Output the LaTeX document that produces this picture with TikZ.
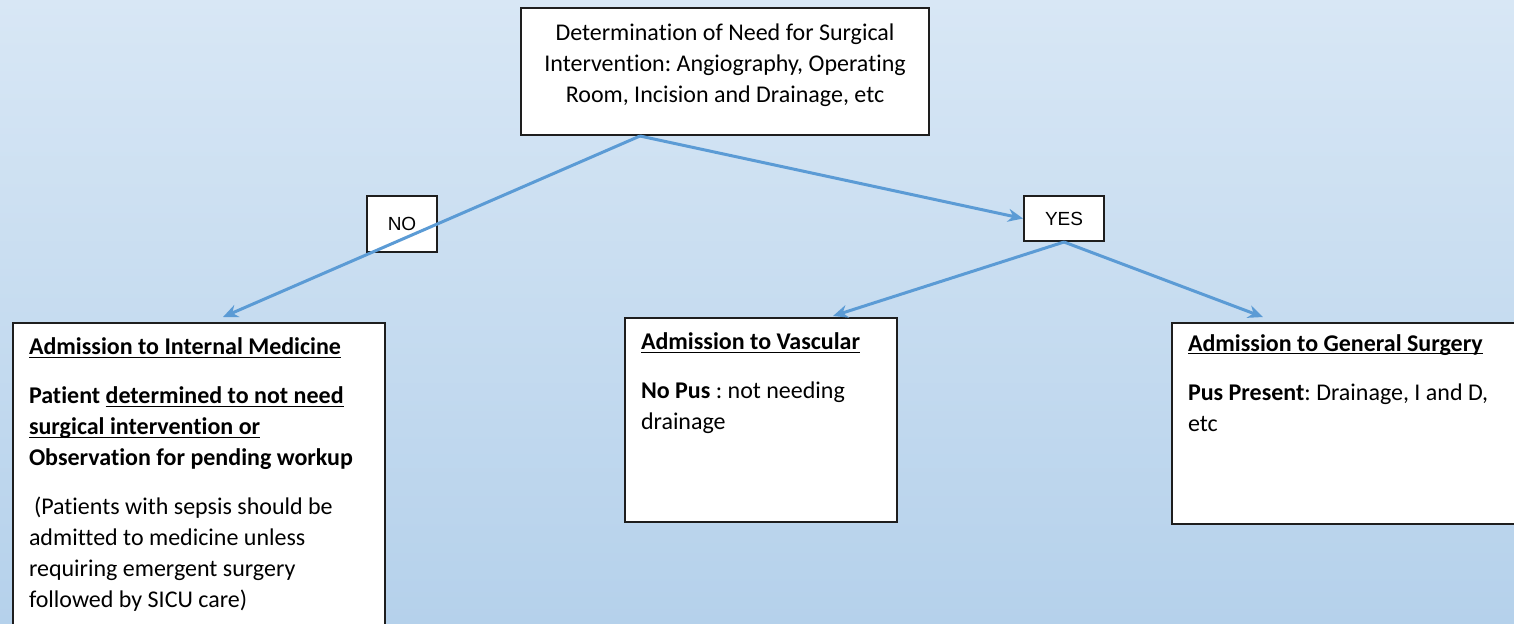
\documentclass[tikz,border=0pt]{standalone}
\usepackage{fontspec}
\setmainfont{Carlito}[Ligatures=NoCommon]
\newfontfamily\labelfont{Liberation Sans}
\usetikzlibrary{arrows.meta,calc}
\definecolor{bgtop}{RGB}{216,231,245}
\definecolor{bgbottom}{RGB}{181,209,235}
\definecolor{flowblue}{RGB}{91,155,213}
\definecolor{boxline}{RGB}{30,30,30}
\newlength\ulwd
\newcommand\undertext[1]{\settowidth\ulwd{#1}\rlap{\rule[-1.6pt]{\ulwd}{0.65pt}}#1}
\frenchspacing

\begin{document}
\begin{tikzpicture}[
    x=0.5pt, y=-0.5pt,
    font=\fontsize{12}{15.5}\selectfont,
    box/.style={rectangle, draw=boxline, fill=white, line width=1pt, anchor=north west, inner xsep=8pt, inner ysep=0pt},
    tag/.style={rectangle, draw=boxline, fill=white, line width=1pt, inner sep=0pt, font=\labelfont\fontsize{9.5}{11}\selectfont},
    flow/.style={-{Stealth[length=7.5pt,width=6.5pt]}, draw=flowblue, line width=1.5pt}
]
    \clip (0,0) rectangle (1514,623);
    \shade[top color=bgtop, bottom color=bgbottom] (0,0) rectangle (1514,623);

    \node[box] (need) at (520,7) {\parbox[t][63.5pt][t]{188pt}{\centering\vspace*{8pt}Determination of Need for Surgical\\Intervention: Angiography, Operating\\Room, Incision and Drainage, etc\par}};

    \node[tag, minimum width=35pt, minimum height=28pt] (no) at (402,224) {NO};
    \node[tag, minimum width=40pt, minimum height=22.5pt] (yes) at (1064,218.5) {YES};

    \node[box] (medicine) at (12,322) {\parbox[t][170pt][t]{170pt}{\raggedright\vspace*{7.4pt}\textbf{\undertext{Admission to Internal Medicine}}\\[9pt]
        \textbf{Patient \undertext{determined to not need}}\\
        \textbf{\undertext{surgical intervention or}}\\
        \textbf{Observation for pending workup}\\[9pt]
        \hspace*{2.5pt}(Patients with sepsis should be\\
        admitted to medicine unless\\
        requiring emergent surgery\\
        followed by SICU care)\par}};

    \node[box] (vascular) at (624,317) {\parbox[t][102pt][t]{120pt}{\raggedright\vspace*{7.4pt}\textbf{\undertext{Admission to Vascular}}\\[9pt]
        \textbf{No Pus} : not needing\\
        drainage\par}};

    \node[box] (surgery) at (1171,322) {\parbox[t][100.5pt][t]{163.5pt}{\raggedright\vspace*{5.6pt}\textbf{\undertext{Admission to General Surgery}}\\[9pt]
        \textbf{Pus Present}: Drainage, I and D,\\
        etc\par}};

    \draw[flow] ($(need.south west)+(120,0)$) -- ($(medicine.north west)+(211,-5)$);
    \draw[flow] ($(need.south west)+(120,0)$) -- (yes.west);
    \draw[flow] (yes.south) -- ($(vascular.north west)+(209,-1)$);
    \draw[flow] (yes.south) -- ($(surgery.north west)+(92,-5)$);

\end{tikzpicture}
\end{document}
